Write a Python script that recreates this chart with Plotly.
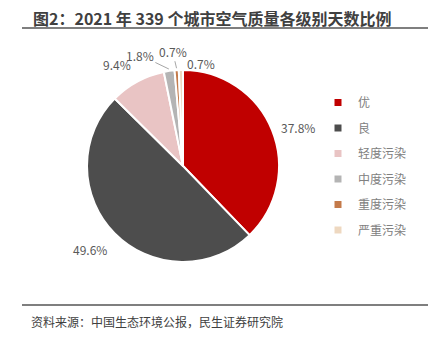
import math
import plotly.graph_objects as go

labels = ["优", "良", "轻度污染", "中度污染", "重度污染", "严重污染"]
values = [37.8, 49.6, 9.4, 1.8, 0.7, 0.7]
colors = ["#C00000", "#4D4D4D", "#E9C4C4", "#B4B4B4", "#C47A4A", "#EED8C0"]

W, H = 431, 341
cx, cy, r = 183, 166, 96   # pie centre / radius in pixels

fig = go.Figure()
fig.add_trace(go.Pie(
    labels=labels, values=values, sort=False, direction="clockwise", rotation=0,
    marker=dict(colors=colors, line=dict(color="white", width=2)),
    textinfo="none", showlegend=False,
    domain=dict(x=[(cx - r) / W, (cx + r) / W], y=[1 - (cy + r) / H, 1 - (cy - r) / H]),
    hoverinfo="label+percent",
))

# legend entries (one group each so the gap between entries can be set)
for lab, col in zip(labels, colors):
    fig.add_trace(go.Scatter(x=[None], y=[None], mode="markers", name=lab, legendgroup=lab,
                             marker=dict(symbol="square", size=7, color=col)))

# slice labels
total = sum(values)
annotations = []
cum = 0.0
# per-slice label style: (radial gap, text offset x, text offset y, leader line colour or None)
style = [(8, None, None, None), (8, None, None, None), (8, None, None, None),
         (2, -29, -14, "#A6A6A6"), (2, -4, -17, "#A6A6A6"), (0, 20, -7, "rgba(0,0,0,0)")]
for v, (gap, ox, oy, lc) in zip(values, style):
    mid = (cum + v / 2) / total * 2 * math.pi
    cum += v
    s, c = math.sin(mid), math.cos(mid)
    px, py = cx + (r + gap) * s, cy - (r + gap) * c
    txt = f"{v:.1f}%"
    font = dict(size=12, color="#595959", family="Noto Sans CJK SC")
    if lc is not None:
        annotations.append(dict(text=txt, x=px / W, y=1 - py / H, xref="paper", yref="paper",
                                showarrow=True, ax=ox, ay=oy, arrowhead=0, arrowwidth=1,
                                arrowcolor=lc, standoff=0, font=font))
    else:
        xa = "left" if s > 0 else "right"
        ya = "middle" if abs(c) < 0.5 else ("bottom" if c > 0 else "top")
        annotations.append(dict(text=txt, x=px / W, y=1 - py / H, xref="paper", yref="paper",
                                showarrow=False, xanchor=xa, yanchor=ya, font=font))

annotations += [
    dict(text="<b>图2：2021 年 339 个城市空气质量各级别天数比例</b>", x=31 / W, y=1 - 18 / H,
         xref="paper", yref="paper", xanchor="left", yanchor="middle", showarrow=False,
         font=dict(size=16, color="#404040", family="Noto Sans CJK SC")),
    dict(text="资料来源：中国生态环境公报，民生证券研究院", x=29 / W, y=1 - 321 / H,
         xref="paper", yref="paper", xanchor="left", yanchor="middle", showarrow=False,
         font=dict(size=12, color="#404040", family="Noto Sans CJK SC")),
]

fig.update_layout(
    width=W, height=H, margin=dict(l=0, r=0, t=0, b=0),
    paper_bgcolor="white", plot_bgcolor="white",
    font=dict(family="Noto Sans CJK SC", color="#595959"),
    xaxis=dict(visible=False), yaxis=dict(visible=False),
    legend=dict(x=318 / W, y=1 - 88 / H, xanchor="left", yanchor="top",
                font=dict(size=12, color="#808080"), tracegroupgap=6.5,
                traceorder="grouped", bgcolor="rgba(0,0,0,0)"),
    annotations=annotations,
    shapes=[
        dict(type="line", xref="paper", yref="paper", x0=22 / W, x1=428 / W, y0=1 - 28 / H, y1=1 - 28 / H,
             line=dict(color="#7F7F7F", width=2)),
        dict(type="line", xref="paper", yref="paper", x0=22 / W, x1=428 / W, y0=1 - 305 / H, y1=1 - 305 / H,
             line=dict(color="#7F7F7F", width=2)),
    ],
)

fig.write_html("out.html")
